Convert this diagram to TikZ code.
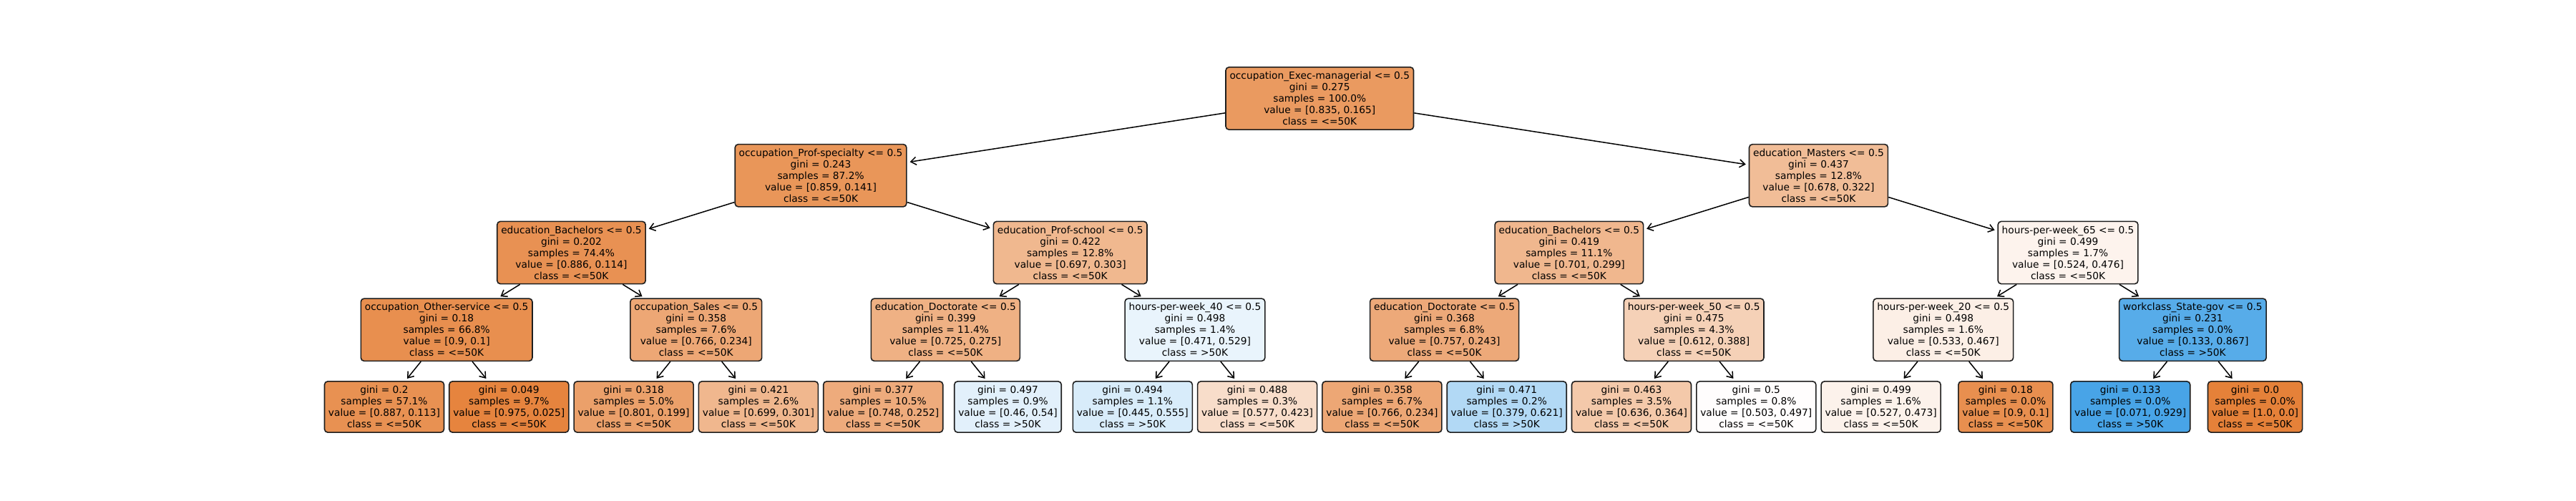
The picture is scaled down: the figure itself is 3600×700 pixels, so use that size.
\documentclass[tikz,border=0pt]{standalone}
\usepackage{fontspec}
\setmainfont{DejaVu Sans}
\usetikzlibrary{arrows.meta}
\definecolor{orng}{RGB}{229,129,57}
\definecolor{blu}{RGB}{57,157,229}
\definecolor{edgec}{RGB}{30,30,30}
\tikzset{
  tnode/.style={draw=edgec, line width=1.6pt, rounded corners=4.5pt, align=center,
    inner xsep=5.5pt, inner ysep=6.3pt, font=\fontsize{13.75}{16}\selectfont},
  edge/.style={draw=black, line width=1.5pt, -{Straight Barb[length=7.5pt,width=11pt,line width=1.5pt]}, shorten >=4pt},
}
\begin{document}
\begin{tikzpicture}[x=1pt,y=-1pt]
\useasboundingbox (0,0) rectangle (3600,700);
% level 0
\node[tnode, fill=orng!80.2!white] (a) at (1844.25,137.5) {occupation\_Exec-managerial <= 0.5\\gini = 0.275\\samples = 100.0\%\\value = [0.835, 0.165]\\class = <=50K};
% level 1
\node[tnode, fill=orng!83.6!white] (b) at (1147.05,245.25) {occupation\_Prof-specialty <= 0.5\\gini = 0.243\\samples = 87.2\%\\value = [0.859, 0.141]\\class = <=50K};
\node[tnode, fill=orng!52.5!white] (c) at (2541.45,245.25) {education\_Masters <= 0.5\\gini = 0.437\\samples = 12.8\%\\value = [0.678, 0.322]\\class = <=50K};
% level 2
\node[tnode, fill=orng!87.1!white] (d) at (798.45,353) {education\_Bachelors <= 0.5\\gini = 0.202\\samples = 74.4\%\\value = [0.886, 0.114]\\class = <=50K};
\node[tnode, fill=orng!56.5!white] (e) at (1495.65,353) {education\_Prof-school <= 0.5\\gini = 0.422\\samples = 12.8\%\\value = [0.697, 0.303]\\class = <=50K};
\node[tnode, fill=orng!57.3!white] (f) at (2192.85,353) {education\_Bachelors <= 0.5\\gini = 0.419\\samples = 11.1\%\\value = [0.701, 0.299]\\class = <=50K};
\node[tnode, fill=orng!9.2!white] (g) at (2890.05,353) {hours-per-week\_65 <= 0.5\\gini = 0.499\\samples = 1.7\%\\value = [0.524, 0.476]\\class = <=50K};
% level 3
\node[tnode, fill=orng!88.9!white] (h) at (624.15,460.75) {occupation\_Other-service <= 0.5\\gini = 0.18\\samples = 66.8\%\\value = [0.9, 0.1]\\class = <=50K};
\node[tnode, fill=orng!69.5!white] (i) at (972.75,460.75) {occupation\_Sales <= 0.5\\gini = 0.358\\samples = 7.6\%\\value = [0.766, 0.234]\\class = <=50K};
\node[tnode, fill=orng!62.1!white] (j) at (1321.35,460.75) {education\_Doctorate <= 0.5\\gini = 0.399\\samples = 11.4\%\\value = [0.725, 0.275]\\class = <=50K};
\node[tnode, fill=blu!11!white] (k) at (1669.95,460.75) {hours-per-week\_40 <= 0.5\\gini = 0.498\\samples = 1.4\%\\value = [0.471, 0.529]\\class = >50K};
\node[tnode, fill=orng!67.9!white] (l) at (2018.55,460.75) {education\_Doctorate <= 0.5\\gini = 0.368\\samples = 6.8\%\\value = [0.757, 0.243]\\class = <=50K};
\node[tnode, fill=orng!36.6!white] (m) at (2367.15,460.75) {hours-per-week\_50 <= 0.5\\gini = 0.475\\samples = 4.3\%\\value = [0.612, 0.388]\\class = <=50K};
\node[tnode, fill=orng!12.4!white] (n) at (2715.75,460.75) {hours-per-week\_20 <= 0.5\\gini = 0.498\\samples = 1.6\%\\value = [0.533, 0.467]\\class = <=50K};
\node[tnode, fill=blu!84.7!white] (o) at (3064.35,460.75) {workclass\_State-gov <= 0.5\\gini = 0.231\\samples = 0.0\%\\value = [0.133, 0.867]\\class = >50K};
% leaves
\node[tnode, fill=orng!87.3!white] (p1) at (537,568.5) {gini = 0.2\\samples = 57.1\%\\value = [0.887, 0.113]\\class = <=50K};
\node[tnode, fill=orng!97.4!white] (p2) at (711.3,568.5) {gini = 0.049\\samples = 9.7\%\\value = [0.975, 0.025]\\class = <=50K};
\node[tnode, fill=orng!75.2!white] (p3) at (885.6,568.5) {gini = 0.318\\samples = 5.0\%\\value = [0.801, 0.199]\\class = <=50K};
\node[tnode, fill=orng!56.9!white] (p4) at (1059.9,568.5) {gini = 0.421\\samples = 2.6\%\\value = [0.699, 0.301]\\class = <=50K};
\node[tnode, fill=orng!66.3!white] (p5) at (1234.2,568.5) {gini = 0.377\\samples = 10.5\%\\value = [0.748, 0.252]\\class = <=50K};
\node[tnode, fill=blu!14.8!white] (p6) at (1408.5,568.5) {gini = 0.497\\samples = 0.9\%\\value = [0.46, 0.54]\\class = >50K};
\node[tnode, fill=blu!19.8!white] (p7) at (1582.8,568.5) {gini = 0.494\\samples = 1.1\%\\value = [0.445, 0.555]\\class = >50K};
\node[tnode, fill=orng!26.7!white] (p8) at (1757.1,568.5) {gini = 0.488\\samples = 0.3\%\\value = [0.577, 0.423]\\class = <=50K};
\node[tnode, fill=orng!69.5!white] (p9) at (1931.4,568.5) {gini = 0.358\\samples = 6.7\%\\value = [0.766, 0.234]\\class = <=50K};
\node[tnode, fill=blu!39!white] (p10) at (2105.7,568.5) {gini = 0.471\\samples = 0.2\%\\value = [0.379, 0.621]\\class = >50K};
\node[tnode, fill=orng!42.8!white] (p11) at (2280,568.5) {gini = 0.463\\samples = 3.5\%\\value = [0.636, 0.364]\\class = <=50K};
\node[tnode, fill=orng!1.2!white] (p12) at (2454.3,568.5) {gini = 0.5\\samples = 0.8\%\\value = [0.503, 0.497]\\class = <=50K};
\node[tnode, fill=orng!10.2!white] (p13) at (2628.6,568.5) {gini = 0.499\\samples = 1.6\%\\value = [0.527, 0.473]\\class = <=50K};
\node[tnode, fill=orng!88.9!white] (p14) at (2802.9,568.5) {gini = 0.18\\samples = 0.0\%\\value = [0.9, 0.1]\\class = <=50K};
\node[tnode, fill=blu!92.4!white] (p15) at (2977.2,568.5) {gini = 0.133\\samples = 0.0\%\\value = [0.071, 0.929]\\class = >50K};
\node[tnode, fill=orng!100!white] (p16) at (3151.5,568.5) {gini = 0.0\\samples = 0.0\%\\value = [1.0, 0.0]\\class = <=50K};
% edges
\draw[edge] (a) -- (b);
\draw[edge] (a) -- (c);
\draw[edge] (b) -- (d);
\draw[edge] (b) -- (e);
\draw[edge] (c) -- (f);
\draw[edge] (c) -- (g);
\draw[edge] (d) -- (h);
\draw[edge] (d) -- (i);
\draw[edge] (e) -- (j);
\draw[edge] (e) -- (k);
\draw[edge] (f) -- (l);
\draw[edge] (f) -- (m);
\draw[edge] (g) -- (n);
\draw[edge] (g) -- (o);
\draw[edge] (h) -- (p1);
\draw[edge] (h) -- (p2);
\draw[edge] (i) -- (p3);
\draw[edge] (i) -- (p4);
\draw[edge] (j) -- (p5);
\draw[edge] (j) -- (p6);
\draw[edge] (k) -- (p7);
\draw[edge] (k) -- (p8);
\draw[edge] (l) -- (p9);
\draw[edge] (l) -- (p10);
\draw[edge] (m) -- (p11);
\draw[edge] (m) -- (p12);
\draw[edge] (n) -- (p13);
\draw[edge] (n) -- (p14);
\draw[edge] (o) -- (p15);
\draw[edge] (o) -- (p16);
\end{tikzpicture}
\end{document}
